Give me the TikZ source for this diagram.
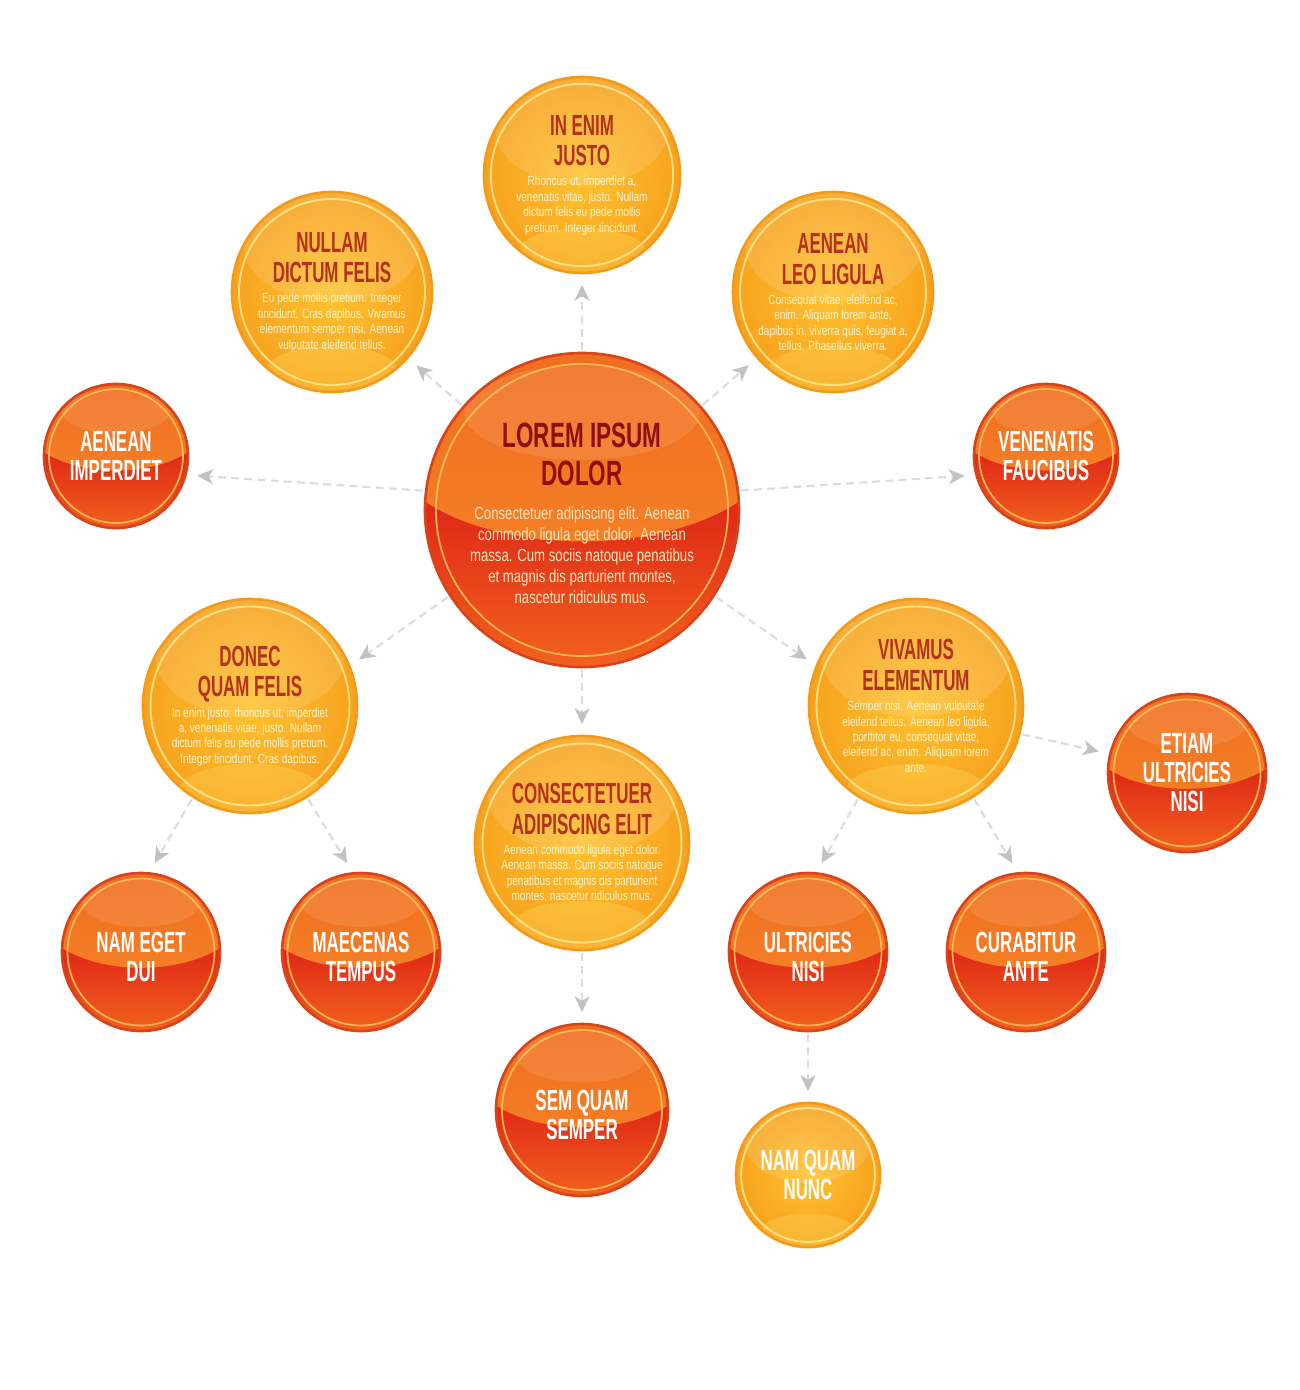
\documentclass[tikz,border=0pt]{standalone}
\usepackage{fontspec}
\setmainfont{Liberation Sans}
\newfontfamily\ttlfam[FakeStretch=0.58]{Liberation Sans}
\newfontfamily\bigttlfam[FakeStretch=0.64]{Liberation Sans}
\newfontfamily\bdyfam[FakeStretch=0.75]{Liberation Sans}
\usetikzlibrary{arrows.meta}

\definecolor{yEdge}{HTML}{F39A1A}
\definecolor{yIn}{HTML}{FFC22F}
\definecolor{yOut}{HTML}{F7A21E}
\definecolor{yRing}{HTML}{FFE58A}
\definecolor{yGlow}{HTML}{FFE36B}
\definecolor{yTitle}{HTML}{B4321C}
\definecolor{yBody}{HTML}{FFF4CF}
\definecolor{oEdge}{HTML}{D9431A}
\definecolor{oGlossTop}{HTML}{F06A1E}
\definecolor{oGlossBot}{HTML}{F68A2B}
\definecolor{oRed}{HTML}{E02A17}
\definecolor{oGlow}{HTML}{F2621E}
\definecolor{oRing}{HTML}{FFBE5A}
\definecolor{cTitle}{HTML}{8E0F0E}
\definecolor{cBody}{HTML}{FDE6BE}
\definecolor{cLine}{HTML}{DCDCDC}
\definecolor{cHead}{HTML}{C2C2C2}

\newcommand\ttlfmt{\ttlfam\bfseries\fontsize{16.6}{17.5}\selectfont}
\newcommand\bdyfmt{\bdyfam\fontsize{7.6}{8.8}\selectfont}
\newcommand\YBall[2]{{\color{yTitle}\ttlfmt #1\par}\vspace{2.6pt}{\color{yBody}\bdyfmt #2\par}}
\newcommand\OBall[1]{{\color{white}\ttlfam\bfseries\fontsize{16.6}{16.5}\selectfont #1\par}}
\newcommand\CBall[2]{{\color{cTitle}\bigttlfam\bfseries\fontsize{20}{21.6}\selectfont #1\par}\vspace{7.4pt}{\color{cBody}\bdyfam\fontsize{10}{12}\selectfont #2\par}}

\tikzset{
  yball/.style={circle, inner sep=0pt, minimum size={2*#1*0.02cm}, draw=yEdge, line width=1.5pt,
    inner color=yIn, outer color=yOut,
    path picture={
      \fill[white, opacity=.13] ([yshift={0.45*#1*0.02cm}]path picture bounding box.center) ellipse [x radius={0.88*#1*0.02cm}, y radius={0.55*#1*0.02cm}];
      \fill[yGlow, opacity=.28] ([yshift={-0.78*#1*0.02cm}]path picture bounding box.center) ellipse [x radius={0.65*#1*0.02cm}, y radius={0.24*#1*0.02cm}];
      \draw[yRing, line width=1.1pt, opacity=.9] (path picture bounding box.center) circle [radius={0.93*#1*0.02cm}];
    }},
  oball/.style={circle, inner sep=0pt, minimum size={2*#1*0.02cm}, draw=oEdge, line width=1.5pt,
    top color=oRed, bottom color=oGlow, middle color=oRed,
    path picture={
      \shade[top color=oGlossTop, bottom color=oGlossBot] ([yshift={0.5*#1*0.02cm}]path picture bounding box.center) ellipse [x radius={1.3*#1*0.02cm}, y radius={0.7*#1*0.02cm}];
      \fill[white, opacity=.10] ([yshift={0.62*#1*0.02cm}]path picture bounding box.center) ellipse [x radius={0.75*#1*0.02cm}, y radius={0.3*#1*0.02cm}];
      \draw[oRing, line width=1pt, opacity=.9] (path picture bounding box.center) circle [radius={0.93*#1*0.02cm}];
    }},
  txt/.style={inner sep=0pt, text width=6cm, align=flush center},
  conn/.style={draw=cLine, line width=1.2pt, dash pattern=on 4.5pt off 3pt,
    -{Stealth[length=9pt, width=8.5pt, inset=2.5pt, color=cHead]},
    shorten >=6pt, shorten <=1pt}
}

\begin{document}
\begin{tikzpicture}[x=0.02cm, y=-0.02cm]
\fill[white] (0,0) rectangle (1300,1390);
\path[use as bounding box] (0,0) rectangle (1300,1390);

% balls
\node[yball=98]  (justo)     at (582,175)  {};
\node[yball=100] (nullam)    at (332,292)  {};
\node[yball=100] (leo)       at (833,292)  {};
\node[oball=157] (lorem)     at (582,510)  {};
\node[oball=72]  (imperdiet) at (116,456)  {};
\node[oball=72]  (faucibus)  at (1046,456) {};
\node[yball=107] (donec)     at (250,706)  {};
\node[yball=107] (vivamus)   at (916,706)  {};
\node[oball=79]  (etiam)     at (1187,773) {};
\node[yball=107] (consect)   at (582,843)  {};
\node[oball=79]  (nameget)   at (141,952)  {};
\node[oball=79]  (maecenas)  at (361,952)  {};
\node[oball=79]  (ultricies) at (808,952)  {};
\node[oball=79]  (curabitur) at (1026,952) {};
\node[oball=86]  (semquam)   at (582,1110) {};
\node[yball=72]  (namquam)   at (808,1175) {};

% texts
\node[txt] (justo-t) at (justo) {\YBall{IN ENIM\\JUSTO}{Rhoncus ut, imperdiet a,\\venenatis vitae, justo. Nullam\\dictum felis eu pede mollis\\pretium. Integer tincidunt.}};
\node[txt] (nullam-t) at (nullam) {\YBall{NULLAM\\DICTUM FELIS}{Eu pede mollis pretium. Integer\\tincidunt. Cras dapibus. Vivamus\\elementum semper nisi. Aenean\\vulputate eleifend tellus.}};
\node[txt] (leo-t) at (leo) {\YBall{AENEAN\\LEO LIGULA}{Consequat vitae, eleifend ac,\\enim. Aliquam lorem ante,\\dapibus in, viverra quis, feugiat a,\\tellus. Phasellus viverra.}};
\node[txt] (lorem-t) at ([yshift=-2pt]lorem.center) {\CBall{LOREM IPSUM\\DOLOR}{Consectetuer adipiscing elit. Aenean\\commodo ligula eget dolor. Aenean\\massa. Cum sociis natoque penatibus\\et magnis dis parturient montes,\\nascetur ridiculus mus.}};
\node[txt] (imperdiet-t) at (imperdiet) {\OBall{AENEAN\\IMPERDIET}};
\node[txt] (faucibus-t) at (faucibus) {\OBall{VENENATIS\\FAUCIBUS}};
\node[txt] (donec-t) at (donec) {\YBall{DONEC\\QUAM FELIS}{In enim justo, rhoncus ut, imperdiet\\a, venenatis vitae, justo. Nullam\\dictum felis eu pede mollis pretium.\\Integer tincidunt. Cras dapibus.}};
\node[txt] (vivamus-t) at (vivamus) {\YBall{VIVAMUS\\ELEMENTUM}{Semper nisi. Aenean vulputate\\eleifend tellus. Aenean leo ligula,\\porttitor eu, consequat vitae,\\eleifend ac, enim. Aliquam lorem\\ante.}};
\node[txt] (etiam-t) at (etiam) {\OBall{ETIAM\\ULTRICIES\\NISI}};
\node[txt] (consect-t) at (consect) {\YBall{CONSECTETUER\\ADIPISCING ELIT}{Aenean commodo ligula eget dolor.\\Aenean massa. Cum sociis natoque\\penatibus et magnis dis parturient\\montes, nascetur ridiculus mus.}};
\node[txt] (nameget-t) at ([yshift=-3pt]nameget.center) {\OBall{NAM EGET\\DUI}};
\node[txt] (maecenas-t) at ([yshift=-3pt]maecenas.center) {\OBall{MAECENAS\\TEMPUS}};
\node[txt] (ultricies-t) at ([yshift=-3pt]ultricies.center) {\OBall{ULTRICIES\\NISI}};
\node[txt] (curabitur-t) at ([yshift=-3pt]curabitur.center) {\OBall{CURABITUR\\ANTE}};
\node[txt] (semquam-t) at ([yshift=-3pt]semquam.center) {\OBall{SEM QUAM\\SEMPER}};
\node[txt] (namquam-t) at (namquam) {\OBall{NAM QUAM\\NUNC}};

% connectors
\draw[conn] (lorem) -- (justo);
\draw[conn] (lorem) -- (nullam);
\draw[conn] (lorem) -- (leo);
\draw[conn] (lorem.173) -- (imperdiet.-15);
\draw[conn] (lorem.7) -- (faucibus.195);
\draw[conn] (lorem.-147) -- (donec.22);
\draw[conn] (lorem.-33) -- (vivamus.158);
\draw[conn] (lorem) -- (consect);
\draw[conn] (donec.-122) -- (nameget.84);
\draw[conn] (donec.-58) -- (maecenas.96);
\draw[conn] (vivamus.-122) -- (ultricies.84);
\draw[conn] (vivamus.-58) -- (curabitur.96);
\draw[conn] (vivamus.-15) -- (etiam.166);
\draw[conn] (consect) -- (semquam);
\draw[conn] (ultricies) -- (namquam);
\end{tikzpicture}
\end{document}
